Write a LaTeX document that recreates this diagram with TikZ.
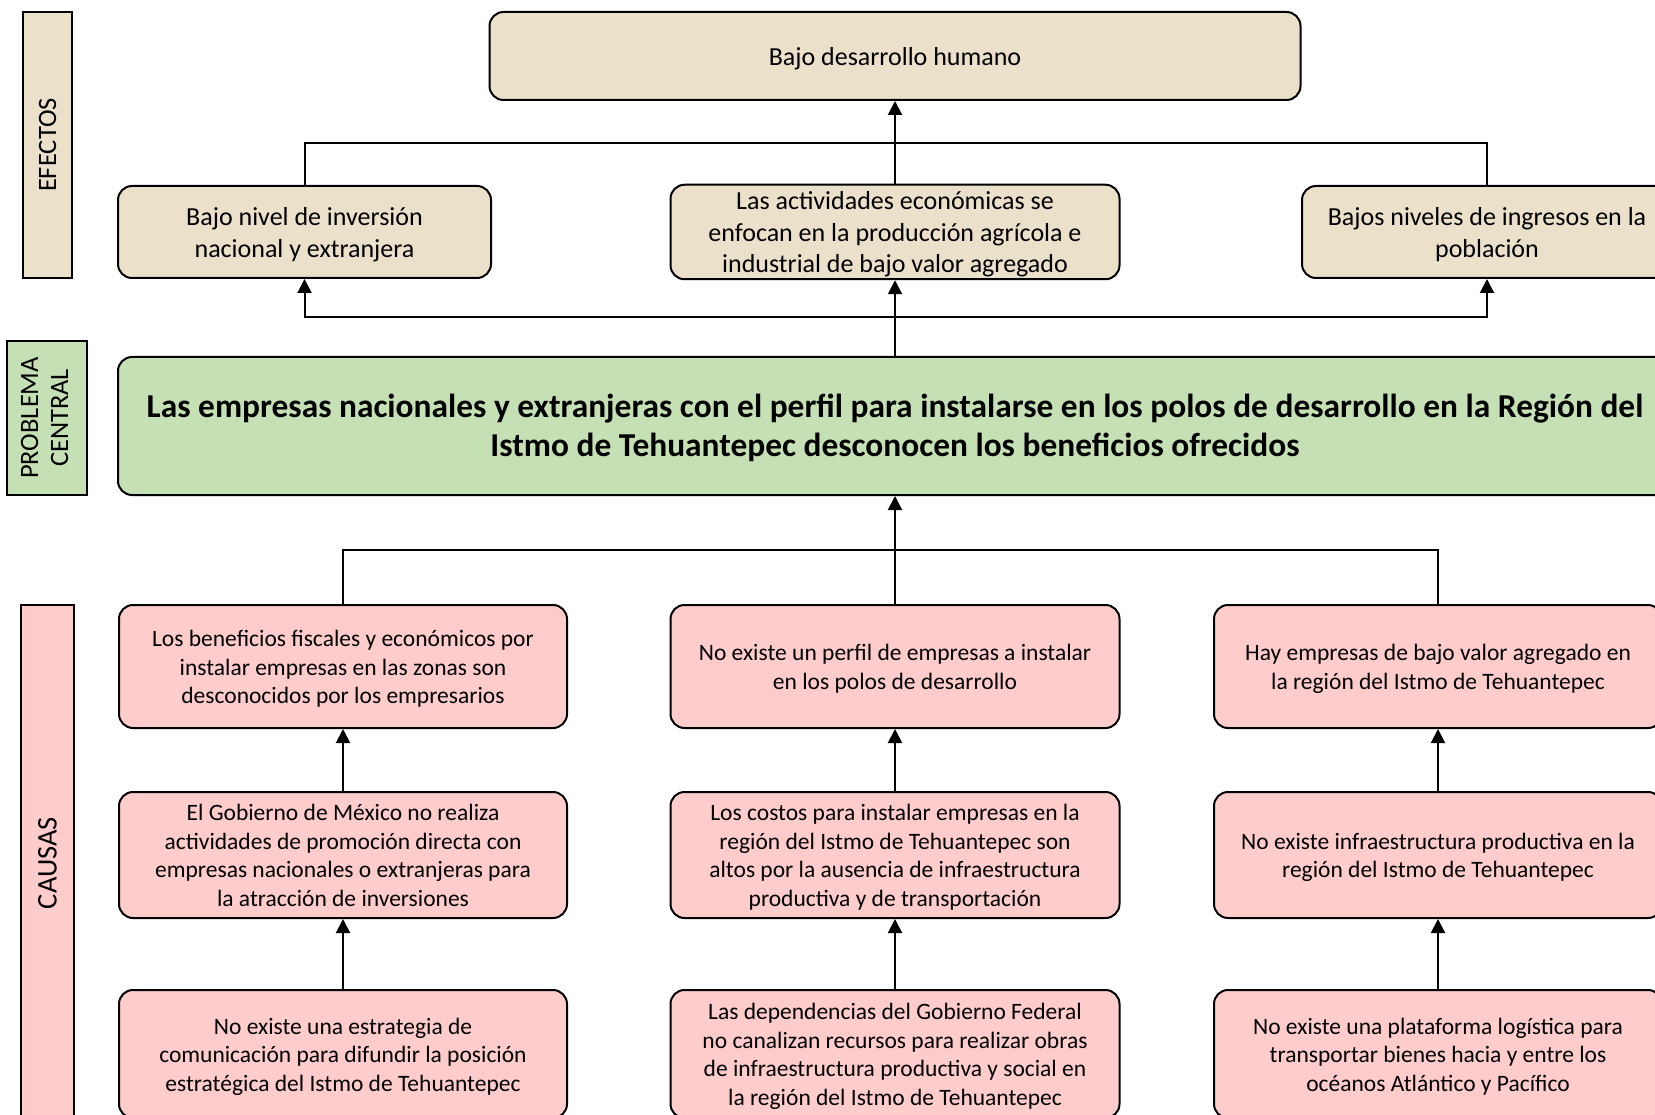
\documentclass[tikz,border=0pt]{standalone}
\usepackage{fontspec}
\setmainfont{Carlito}
\usetikzlibrary{arrows.meta}
\definecolor{beige}{HTML}{EBE1CB}
\definecolor{pgreen}{HTML}{C5E0B4}
\definecolor{ppink}{HTML}{FFCCCC}
\newcommand{\mlines}[1]{\raisebox{-3pt}[\height][\depth]{\begin{tabular}{@{}c@{}}#1\end{tabular}}}
\tikzset{
 box/.style={draw=black, line width=2pt, rounded corners=14pt, inner sep=0pt, align=center, anchor=center},
 effbox/.style={box, fill=beige, font=\fontsize{26}{31.5}\selectfont},
 causebox/.style={box, fill=ppink, font=\fontsize{23.5}{28.5}\selectfont},
 centralbox/.style={box, fill=pgreen, font=\fontsize{33.4}{39}\selectfont\bfseries},
 sidebox/.style={draw=black, line width=2pt, inner sep=0pt, rotate=90, align=center, anchor=center, font=\fontsize{26.5}{30}\selectfont},
 conn/.style={draw=black, line width=2pt},
 arr/.style={conn, -{Triangle[length=14pt,width=14pt]}},
}
\begin{document}
\begin{tikzpicture}[x=1pt,y=-1pt]
\path[use as bounding box] (0,0) rectangle (1655,1115);
\clip (0,0) rectangle (1655,1115);
% side labels
\node[sidebox, fill=beige, minimum width=266pt, minimum height=49pt] (sEf) at (47.5,145) {EFECTOS};
\node[sidebox, fill=pgreen, minimum width=154pt, minimum height=80pt] (sPc) at (47,418) {\begin{tabular}{@{}c@{}}PROBLEMA\\CENTRAL\end{tabular}};
\node[sidebox, fill=ppink, minimum width=516pt, minimum height=53pt, font=\fontsize{28.5}{32}\selectfont] (sCa) at (47.5,863) {CAUSAS};
% effects
\node[effbox, minimum width=811pt, minimum height=88pt] (top) at (895,56) {\mlines{Bajo desarrollo humano}};
\node[effbox, minimum width=373pt, minimum height=92pt] (e1) at (304.5,232) {\mlines{Bajo nivel de inversión\\nacional y extranjera}};
\node[effbox, minimum width=449pt, minimum height=92pt] (e2) at (895,232) {\mlines{Las actividades económicas se\\enfocan en la producción agrícola e\\industrial de bajo valor agregado}};
\node[effbox, minimum width=370pt, minimum height=92pt] (e3) at (1487,232) {\mlines{Bajos niveles de ingresos en la\\población}};
% central problem
\node[centralbox, minimum width=1554pt, minimum height=138pt] (green) at (895,426) {\mlines{Las empresas nacionales y extranjeras con el perfil para instalarse en los polos de desarrollo en la Región del\\Istmo de Tehuantepec desconocen los beneficios ofrecidos}};
% causes row 1
\node[causebox, minimum width=448pt, minimum height=123pt] (c11) at (343,666.5) {\mlines{Los beneficios fiscales y económicos por\\instalar empresas en las zonas son\\desconocidos por los empresarios}};
\node[causebox, minimum width=449pt, minimum height=123pt] (c21) at (895,666.5) {\mlines{No existe un perfil de empresas a instalar\\en los polos de desarrollo}};
\node[causebox, minimum width=448pt, minimum height=123pt] (c31) at (1438,666.5) {\mlines{Hay empresas de bajo valor agregado en\\la región del Istmo de Tehuantepec}};
% causes row 2
\node[causebox, minimum width=448pt, minimum height=126pt] (c12) at (343,855) {\mlines{El Gobierno de México no realiza\\actividades de promoción directa con\\empresas nacionales o extranjeras para\\la atracción de inversiones}};
\node[causebox, minimum width=449pt, minimum height=126pt] (c22) at (895,855) {\mlines{Los costos para instalar empresas en la\\región del Istmo de Tehuantepec son\\altos por la ausencia de infraestructura\\productiva y de transportación}};
\node[causebox, minimum width=448pt, minimum height=126pt] (c32) at (1438,855) {\mlines{No existe infraestructura productiva en la\\región del Istmo de Tehuantepec}};
% causes row 3
\node[causebox, minimum width=448pt, minimum height=128pt] (c13) at (343,1054) {\mlines{No existe una estrategia de\\comunicación para difundir la posición\\estratégica del Istmo de Tehuantepec}};
\node[causebox, minimum width=449pt, minimum height=128pt] (c23) at (895,1054) {\mlines{Las dependencias del Gobierno Federal\\no canalizan recursos para realizar obras\\de infraestructura productiva y social en\\la región del Istmo de Tehuantepec}};
\node[causebox, minimum width=448pt, minimum height=128pt] (c33) at (1438,1054) {\mlines{No existe una plataforma logística para\\transportar bienes hacia y entre los\\océanos Atlántico y Pacífico}};
% connectors: effects to top
\coordinate (jt) at (895,143);
\draw[conn] (e1.north) |- (jt) -| (e3.north);
\draw[arr] (e2.north) -- (top.south);
% central to effects
\coordinate (jb) at (895,317);
\draw[arr] (jb) -| (e1.south);
\draw[arr] (jb) -| (e3.south);
\draw[arr] (green.north) -- (e2.south);
% causes to central
\coordinate (jc) at (895,550);
\draw[conn] (c11.north) |- (jc) -| (c31.north);
\draw[arr] (c21.north) -- (green.south);
% within columns
\draw[arr] (c12.north) -- (c11.south);
\draw[arr] (c22.north) -- (c21.south);
\draw[arr] (c32.north) -- (c31.south);
\draw[arr] (c13.north) -- (c12.south);
\draw[arr] (c23.north) -- (c22.south);
\draw[arr] (c33.north) -- (c32.south);
\end{tikzpicture}
\end{document}
